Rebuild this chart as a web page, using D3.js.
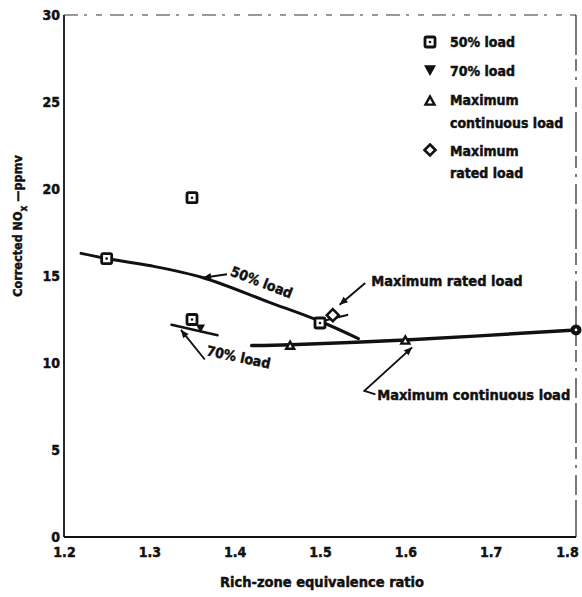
<!DOCTYPE html>
<html>
<head>
<meta charset="utf-8">
<script src="https://cdn.jsdelivr.net/npm/d3@7/dist/d3.min.js"></script>
<style>
  html, body { margin: 0; padding: 0; background: #fff; }
  svg text { font-family: "DejaVu Sans Condensed", "DejaVu Sans", sans-serif; font-weight: bold;
             fill: #111; stroke: #111; stroke-width: 0.45px; }
</style>
</head>
<body>
<svg id="chart" width="582" height="597"></svg>
<script>
// Axis ticks
const xTicks = [1.2, 1.3, 1.4, 1.5, 1.6, 1.7, 1.8];
const yTicks = [0, 5, 10, 15, 20, 25, 30];

// Measured points, by load condition
const load50X = [1.25, 1.35, 1.35, 1.50];
const load50Y = [16.0, 19.5, 12.5, 12.3];
const load70X = [1.36];
const load70Y = [12.0];
const maxContX = [1.465, 1.60, 1.80];
const maxContY = [11.0, 11.3, 11.9];
const maxRatedX = [1.515];
const maxRatedY = [12.75];

// Faired curves through the data
const curve50X = [1.22, 1.25, 1.30, 1.363, 1.44, 1.50, 1.545];
const curve50Y = [16.3, 16.0, 15.6, 14.9, 13.5, 12.4, 11.4];
const curve70X = [1.326, 1.38];
const curve70Y = [12.2, 11.6];
const curveContX = [1.42, 1.465, 1.60, 1.80];
const curveContY = [11.0, 11.05, 11.32, 11.9];
const curveRatedX = [1.508, 1.532];
const curveRatedY = [12.47, 12.76];

const svg = d3.select("#chart");
const plotL = 64, plotR = 576, plotT = 15, plotB = 537;

const x = d3.scaleLinear().domain([1.2, 1.8]).range([plotL, plotR]);
const y = d3.scaleLinear().domain([0, 30]).range([plotB, plotT]);

const zip = (xs, ys) => xs.map((v, i) => [v, ys[i]]);

// Frame: solid left and bottom, faint broken top and right
svg.append("line").attr("x1", plotL).attr("x2", plotL).attr("y1", plotT).attr("y2", plotB)
  .attr("stroke", "#111").attr("stroke-width", 1.8);
svg.append("line").attr("x1", plotL).attr("x2", plotR).attr("y1", plotB).attr("y2", plotB)
  .attr("stroke", "#111").attr("stroke-width", 1.8);
svg.append("line").attr("x1", plotL).attr("x2", plotR).attr("y1", plotT).attr("y2", plotT)
  .attr("stroke", "#333").attr("stroke-width", 1.2).attr("stroke-dasharray", "14,6,3,9,6,8");
svg.append("line").attr("x1", plotR).attr("x2", plotR).attr("y1", plotT).attr("y2", plotB)
  .attr("stroke", "#222").attr("stroke-width", 1.2).attr("stroke-dasharray", "40,4,12,6,3,7,20,5");

// Axes (labels only)
const xAxis = d3.axisBottom(x).tickValues(xTicks).tickSize(0).tickPadding(10)
  .tickFormat(d3.format(".1f"));
const gx = svg.append("g").attr("transform", `translate(0,${plotB})`).call(xAxis);
gx.select(".domain").remove();
gx.selectAll("text").attr("font-size", 14).attr("fill", "#111")
  .attr("dx", d => d === 1.8 ? -9 : 0);

const yAxis = d3.axisLeft(y).tickValues(yTicks).tickSize(0).tickPadding(4);
const gy = svg.append("g").attr("transform", `translate(${plotL},0)`).call(yAxis);
gy.select(".domain").remove();
gy.selectAll("text").attr("font-size", 14).attr("fill", "#111");

// Axis titles
svg.append("text").attr("x", 322).attr("y", 587).attr("text-anchor", "middle")
  .attr("font-size", 14.5).text("Rich-zone equivalence ratio");

const yt = svg.append("text").attr("transform", "translate(22,226) rotate(-90)")
  .attr("text-anchor", "middle").attr("font-size", 12.5);
yt.append("tspan").text("Corrected NO");
yt.append("tspan").attr("dy", 5).attr("font-size", 10).text("x");
yt.append("tspan").attr("dy", -5).text(" —ppmv");

// Curves
const line = d3.line().x(d => x(d[0])).y(d => y(d[1])).curve(d3.curveCatmullRom);
const drawCurve = (pts, w) => svg.append("path").attr("d", line(pts))
  .attr("fill", "none").attr("stroke", "#111").attr("stroke-width", w)
  .attr("stroke-linecap", "round");
drawCurve(zip(curve50X, curve50Y), 3);
drawCurve(zip(curve70X, curve70Y), 2.5);
drawCurve(zip(curveContX, curveContY), 3.5);
drawCurve(zip(curveRatedX, curveRatedY), 2.2);

// Marker shapes
function square(g, cx, cy) {
  g.append("rect").attr("x", cx - 5).attr("y", cy - 5).attr("width", 10).attr("height", 10)
    .attr("rx", 1.5).attr("fill", "#fff").attr("stroke", "#111").attr("stroke-width", 2.8);
  g.append("circle").attr("cx", cx).attr("cy", cy).attr("r", 1.3).attr("fill", "#111");
}
function triDown(g, cx, cy, s = 6) {
  g.append("path").attr("d", `M${cx - s},${cy - s * 0.8}L${cx + s},${cy - s * 0.8}L${cx},${cy + s}Z`)
    .attr("fill", "#111");
}
function triUp(g, cx, cy, s = 5) {
  g.append("path").attr("d", `M${cx - s},${cy + s * 0.8}L${cx + s},${cy + s * 0.8}L${cx},${cy - s}Z`)
    .attr("fill", "#fff").attr("stroke", "#111").attr("stroke-width", 2.4);
}
function diamond(g, cx, cy, s = 6) {
  g.append("path").attr("d", `M${cx},${cy - s}L${cx + s},${cy}L${cx},${cy + s}L${cx - s},${cy}Z`)
    .attr("fill", "#fff").attr("stroke", "#111").attr("stroke-width", 2.6);
}

const marks = svg.append("g");
zip(load70X, load70Y).forEach(d => triDown(marks, x(d[0]), y(d[1]), 4.5));
zip(load50X, load50Y).forEach(d => square(marks, x(d[0]), y(d[1])));
zip(maxContX, maxContY).forEach((d, i) => {
  if (i === maxContX.length - 1) {
    marks.append("circle").attr("cx", x(d[0])).attr("cy", y(d[1])).attr("r", 5.5).attr("fill", "#111");
    marks.append("circle").attr("cx", x(d[0])).attr("cy", y(d[1])).attr("r", 1.4).attr("fill", "#fff");
  } else {
    triUp(marks, x(d[0]), y(d[1]), 4);
  }
});
zip(maxRatedX, maxRatedY).forEach(d => diamond(marks, x(d[0]), y(d[1])));

// Legend
const legend = svg.append("g");
const lx = 430, tx = 450, fs = 14;
square(legend, lx, 42);
legend.append("text").attr("x", tx).attr("y", 47).attr("font-size", fs).text("50% load");
triDown(legend, lx, 70, 6);
legend.append("text").attr("x", tx).attr("y", 76).attr("font-size", fs).text("70% load");
triUp(legend, lx, 101, 4.5);
legend.append("text").attr("x", tx).attr("y", 105).attr("font-size", fs).text("Maximum");
legend.append("text").attr("x", tx).attr("y", 128).attr("font-size", fs).text("continuous load");
diamond(legend, lx, 150, 5.5);
legend.append("text").attr("x", tx).attr("y", 156).attr("font-size", fs).text("Maximum");
legend.append("text").attr("x", tx).attr("y", 178).attr("font-size", fs).text("rated load");

// Callouts with leader arrows
function arrow(pts) {
  const p = pts.map(d => [x(d[0]), y(d[1])]);
  svg.append("path").attr("d", d3.line()(p)).attr("fill", "none")
    .attr("stroke", "#111").attr("stroke-width", 1.9);
  const [a, b] = [p[p.length - 2], p[p.length - 1]];
  const ang = Math.atan2(b[1] - a[1], b[0] - a[0]);
  const L = 8, W = 3.5;
  const bx = b[0] - L * Math.cos(ang), by = b[1] - L * Math.sin(ang);
  const nx = -Math.sin(ang) * W, ny = Math.cos(ang) * W;
  svg.append("path").attr("d", `M${b[0]},${b[1]}L${bx + nx},${by + ny}L${bx - nx},${by - ny}Z`)
    .attr("fill", "#111");
}

// 50% load
arrow([[1.391, 15.1], [1.363, 14.9]]);
svg.append("text").attr("transform", `translate(${x(1.394)},${y(15.05)}) rotate(21)`)
  .attr("font-size", 14).text("50% load");

// 70% load
arrow([[1.365, 10.2], [1.337, 11.9]]);
svg.append("text").attr("transform", `translate(${x(1.366)},${y(10.45)}) rotate(12)`)
  .attr("font-size", 14).text("70% load");

// Maximum rated load
arrow([[1.553, 14.6], [1.523, 13.35]]);
svg.append("text").attr("x", x(1.56)).attr("y", y(14.45)).attr("font-size", 14.5)
  .text("Maximum rated load");

// Maximum continuous load
arrow([[1.565, 8.2], [1.552, 8.4], [1.608, 10.9]]);
svg.append("text").attr("x", x(1.567)).attr("y", y(7.9)).attr("font-size", 14.5)
  .text("Maximum continuous load");
</script>
</body>
</html>
